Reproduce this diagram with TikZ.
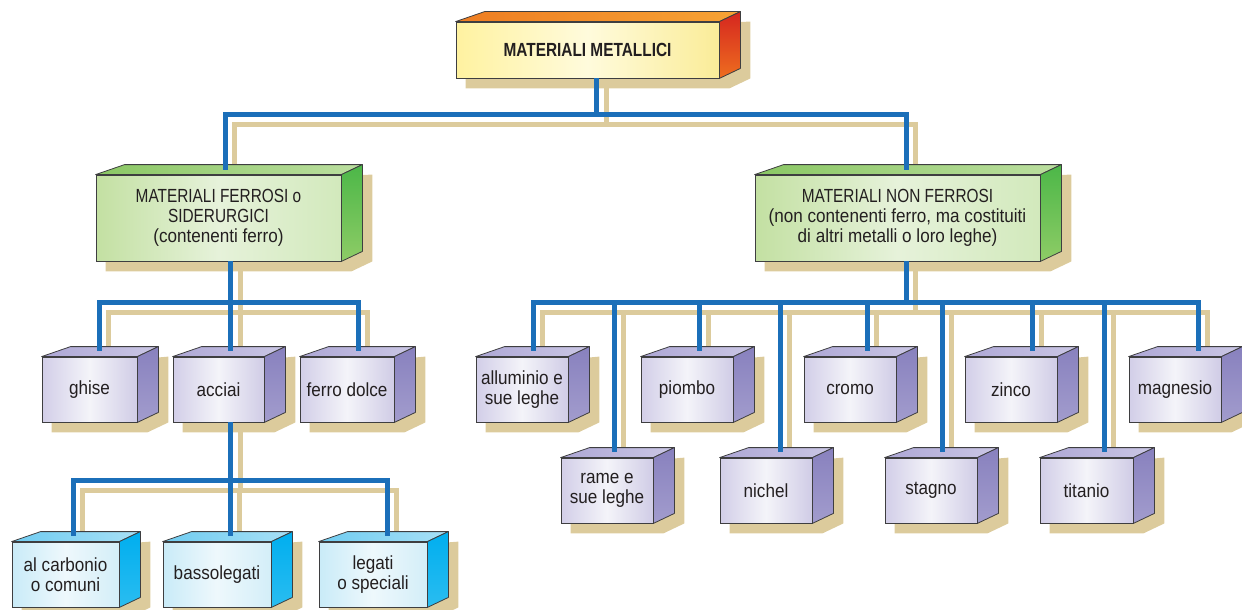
\documentclass[tikz,border=0pt]{standalone}
\usepackage{fontspec}
\setmainfont{Liberation Sans}[FakeStretch=0.9]
\newfontfamily\capsfont{Liberation Sans}[FakeStretch=0.81]
\usetikzlibrary{positioning}

\pgfdeclarelayer{back}
\pgfsetlayers{back,main}

\definecolor{linkblue}{HTML}{1B6FB9}
\definecolor{linktan}{HTML}{DCCB9C}
\definecolor{inkgray}{HTML}{231F20}
\definecolor{edgegray}{HTML}{3E3E40}
% fronts
\definecolor{yelA}{HTML}{FFF2A0}
\definecolor{yelB}{HTML}{FFFBDC}
\definecolor{yelC}{HTML}{FAEC98}
\definecolor{grnA}{HTML}{C3E0A2}
\definecolor{grnB}{HTML}{E6F2DA}
\definecolor{grnC}{HTML}{D2E9BC}
\definecolor{purA}{HTML}{D2CEE8}
\definecolor{purB}{HTML}{F4F4F9}
\definecolor{purC}{HTML}{D0CCE6}
\definecolor{cyaA}{HTML}{C9EBF8}
\definecolor{cyaB}{HTML}{EEF8FC}
\definecolor{cyaC}{HTML}{D3EEF8}
% top and side faces
\definecolor{yelTopA}{HTML}{EE7D22}
\definecolor{yelTopB}{HTML}{F7A335}
\definecolor{yelSideA}{HTML}{D5261F}
\definecolor{yelSideB}{HTML}{EE6E1F}
\definecolor{grnTopA}{HTML}{8AC764}
\definecolor{grnTopB}{HTML}{BCDFA0}
\definecolor{grnSideA}{HTML}{4CB748}
\definecolor{grnSideB}{HTML}{8ECC66}
\definecolor{purTopA}{HTML}{ADA7D5}
\definecolor{purTopB}{HTML}{CBC7E5}
\definecolor{purSideA}{HTML}{8881BE}
\definecolor{purSideB}{HTML}{A29CCD}
\definecolor{cyaTopA}{HTML}{6FCCF1}
\definecolor{cyaTopB}{HTML}{A8E0F6}
\definecolor{cyaSideA}{HTML}{00AEEF}
\definecolor{cyaSideB}{HTML}{2ABDF0}

\tikzset{
  solidbox/.style={draw=edgegray, line width=0.8pt, inner sep=0pt, text=inkgray,
    align=center, font=\fontsize{19}{20}\selectfont},
  yellowbox/.style={solidbox, left color=yelA, right color=yelC, middle color=yelB},
  greenbox/.style={solidbox, left color=grnA, right color=grnC, middle color=grnB},
  purplebox/.style={solidbox, left color=purA, right color=purC, middle color=purB},
  cyanbox/.style={solidbox, left color=cyaA, right color=cyaC, middle color=cyaB},
  bluelink/.style={draw=linkblue, line width=5pt},
  tanlink/.style={draw=linktan, line width=5pt}
}

% top and right faces of a block, and its shadow
\newcommand{\blockfaces}[5]{%
  \shadedraw[left color=#2, right color=#3, draw=edgegray, line width=0.8pt, line join=round]
    (#1.north west) -- ++(29,-10) -- ([shift={(21pt,10pt)}]#1.north east) -- (#1.north east) -- cycle;
  \shadedraw[top color=#4, bottom color=#5, draw=edgegray, line width=0.8pt, line join=round]
    (#1.north east) -- ([shift={(21pt,10pt)}]#1.north east) -- ([shift={(21pt,10pt)}]#1.south east) -- (#1.south east) -- cycle;
  \begin{pgfonlayer}{back}
    \fill[linktan] ([shift={(10pt,-10pt)}]#1.south west) -- ([shift={(10pt,-10pt)}]#1.south east)
      -- ([shift={(31pt,0pt)}]#1.south east) -- ([shift={(31pt,0pt)}]#1.north east)
      -- ([shift={(10pt,-10pt)}]#1.north west) -- cycle;
  \end{pgfonlayer}
}
\newcommand{\purpleblock}[1]{\blockfaces{#1}{purTopA}{purTopB}{purSideA}{purSideB}}
\newcommand{\cyanblock}[1]{\blockfaces{#1}{cyaTopA}{cyaTopB}{cyaSideA}{cyaSideB}}

\begin{document}
\begin{tikzpicture}[x=1pt,y=-1pt]
  \useasboundingbox (0,0) rectangle (1242,610);

  % blocks
  \node[yellowbox, minimum width=263pt, minimum height=56pt] (metal) at (587.5,50)
    {\capsfont\bfseries MATERIALI METALLICI};
  \node[greenbox, minimum width=245pt, minimum height=86pt] (ferrosi) at (218.5,218)
    {\capsfont MATERIALI FERROSI o\\\capsfont SIDERURGICI\\\rmfamily(contenenti ferro)};
  \node[greenbox, minimum width=285pt, minimum height=86pt] (nonferrosi) at (897.5,218)
    {\capsfont MATERIALI NON FERROSI\\\rmfamily(non contenenti ferro, ma costituiti\\di altri metalli o loro leghe)};

  \node[purplebox, minimum width=95pt, minimum height=65pt] (ghise) at (89.5,389.5) {ghise};
  \node[purplebox, minimum width=91pt, minimum height=65pt] (acciai) at (218.5,389.5) {acciai};
  \node[purplebox, minimum width=94pt, minimum height=65pt] (dolce) at (347,389.5) {ferro dolce};

  \node[cyanbox, minimum width=107pt, minimum height=65pt] (carbonio) at (65.5,574.5) {al carbonio\\o comuni};
  \node[cyanbox, minimum width=108pt, minimum height=65pt] (basso) at (217,574.5) {bassolegati};
  \node[cyanbox, minimum width=108pt, minimum height=65pt] (speciali) at (373,574.5) {legati\\o speciali};

  \node[purplebox, minimum width=92pt, minimum height=65pt] (alluminio) at (522,389.5) {alluminio e\\sue leghe};
  \node[purplebox, minimum width=92pt, minimum height=65pt] (piombo) at (687,389.5) {piombo};
  \node[purplebox, minimum width=92pt, minimum height=65pt] (cromo) at (850,389.5) {cromo};
  \node[purplebox, minimum width=92pt, minimum height=65pt] (zinco) at (1011,389.5) {zinco};
  \node[purplebox, minimum width=92pt, minimum height=65pt] (magnesio) at (1175,389.5) {magnesio};
  \node[purplebox, minimum width=92pt, minimum height=65pt] (rame) at (607,490.5) {rame e\\sue leghe};
  \node[purplebox, minimum width=92pt, minimum height=65pt] (nichel) at (766,490.5) {nichel};
  \node[purplebox, minimum width=92pt, minimum height=65pt] (stagno) at (931,490.5) {stagno};
  \node[purplebox, minimum width=93pt, minimum height=65pt] (titanio) at (1086.5,490.5) {titanio};

  % faces and shadows
  \blockfaces{metal}{yelTopA}{yelTopB}{yelSideA}{yelSideB}
  \blockfaces{ferrosi}{grnTopA}{grnTopB}{grnSideA}{grnSideB}
  \blockfaces{nonferrosi}{grnTopA}{grnTopB}{grnSideA}{grnSideB}
  \purpleblock{ghise}
  \purpleblock{acciai}
  \purpleblock{dolce}
  \purpleblock{alluminio}
  \purpleblock{piombo}
  \purpleblock{cromo}
  \purpleblock{zinco}
  \purpleblock{magnesio}
  \purpleblock{rame}
  \purpleblock{nichel}
  \purpleblock{stagno}
  \purpleblock{titanio}
  \cyanblock{carbonio}
  \cyanblock{basso}
  \cyanblock{speciali}

  % junctions
  \path ([xshift=9pt]metal.south) ++(0,36) coordinate (mjoin);
  \path ([xshift=12pt]ferrosi.south) ++(0,41) coordinate (fjoin);
  \path ([xshift=12pt]acciai.south) ++(0,58) coordinate (ajoin);
  \path ([xshift=8.5pt]nonferrosi.south) ++(0,41) coordinate (njoin);
  \path ([xshift=18.5pt]metal.south) ++(0,46) coordinate (mjointan);
  \path ([xshift=21.5pt]ferrosi.south) ++(0,51) coordinate (fjointan);
  \path ([xshift=21.5pt]acciai.south) ++(0,68) coordinate (ajointan);
  \path ([xshift=18pt]nonferrosi.south) ++(0,51) coordinate (njointan);

  % shadow links
  \begin{pgfonlayer}{back}
    \draw[tanlink] ([xshift=18.5pt]metal.south) -- (mjointan);
    \draw[tanlink] (mjointan) -| ([xshift=16pt]ferrosi.north);
    \draw[tanlink] (mjointan) -| ([xshift=18pt]nonferrosi.north);
    \draw[tanlink] ([xshift=21.5pt]ferrosi.south) -- (fjointan);
    \draw[tanlink] (fjointan) -| ([xshift=19pt]ghise.north);
    \draw[tanlink] (fjointan) -| ([xshift=21.5pt]acciai.north);
    \draw[tanlink] (fjointan) -| ([xshift=20.5pt]dolce.north);
    \draw[tanlink] ([xshift=21.5pt]acciai.south) -- (ajointan);
    \draw[tanlink] (ajointan) -| ([xshift=17pt]carbonio.north);
    \draw[tanlink] (ajointan) -| ([xshift=22.5pt]basso.north);
    \draw[tanlink] (ajointan) -| ([xshift=23.5pt]speciali.north);
    \draw[tanlink] ([xshift=18pt]nonferrosi.south) -- (njointan);
    \draw[tanlink] (njointan) -| ([xshift=20.5pt]alluminio.north);
    \draw[tanlink] (njointan) -| ([xshift=16.5pt]rame.north);
    \draw[tanlink] (njointan) -| ([xshift=21.5pt]piombo.north);
    \draw[tanlink] (njointan) -| ([xshift=23.5pt]nichel.north);
    \draw[tanlink] (njointan) -| ([xshift=26.5pt]cromo.north);
    \draw[tanlink] (njointan) -| ([xshift=20.5pt]stagno.north);
    \draw[tanlink] (njointan) -| ([xshift=30.5pt]zinco.north);
    \draw[tanlink] (njointan) -| ([xshift=27pt]titanio.north);
    \draw[tanlink] (njointan) -| ([xshift=32.5pt]magnesio.north);
  \end{pgfonlayer}

  % links
  \draw[bluelink] ([xshift=9pt]metal.south) -- (mjoin);
  \draw[bluelink, shorten >=5pt] (mjoin) -| ([xshift=6.5pt]ferrosi.north);
  \draw[bluelink, shorten >=5pt] (mjoin) -| ([xshift=8.5pt]nonferrosi.north);
  \draw[bluelink] ([xshift=12pt]ferrosi.south) -- (fjoin);
  \draw[bluelink, shorten >=6pt] (fjoin) -| ([xshift=9.5pt]ghise.north);
  \draw[bluelink, shorten >=6pt] (fjoin) -| ([xshift=12pt]acciai.north);
  \draw[bluelink, shorten >=6pt] (fjoin) -| ([xshift=11pt]dolce.north);
  \draw[bluelink] ([xshift=12pt]acciai.south) -- (ajoin);
  \draw[bluelink, shorten >=6pt] (ajoin) -| ([xshift=7.5pt]carbonio.north);
  \draw[bluelink, shorten >=6pt] (ajoin) -| ([xshift=13pt]basso.north);
  \draw[bluelink, shorten >=6pt] (ajoin) -| ([xshift=14pt]speciali.north);
  \draw[bluelink] ([xshift=8.5pt]nonferrosi.south) -- (njoin);
  \draw[bluelink, shorten >=6pt] (njoin) -| ([xshift=11pt]alluminio.north);
  \draw[bluelink, shorten >=6pt] (njoin) -| ([xshift=7pt]rame.north);
  \draw[bluelink, shorten >=6pt] (njoin) -| ([xshift=12pt]piombo.north);
  \draw[bluelink, shorten >=6pt] (njoin) -| ([xshift=14pt]nichel.north);
  \draw[bluelink, shorten >=6pt] (njoin) -| ([xshift=17pt]cromo.north);
  \draw[bluelink, shorten >=6pt] (njoin) -| ([xshift=11pt]stagno.north);
  \draw[bluelink, shorten >=6pt] (njoin) -| ([xshift=21pt]zinco.north);
  \draw[bluelink, shorten >=6pt] (njoin) -| ([xshift=17.5pt]titanio.north);
  \draw[bluelink, shorten >=6pt] (njoin) -| ([xshift=23pt]magnesio.north);
\end{tikzpicture}
\end{document}
